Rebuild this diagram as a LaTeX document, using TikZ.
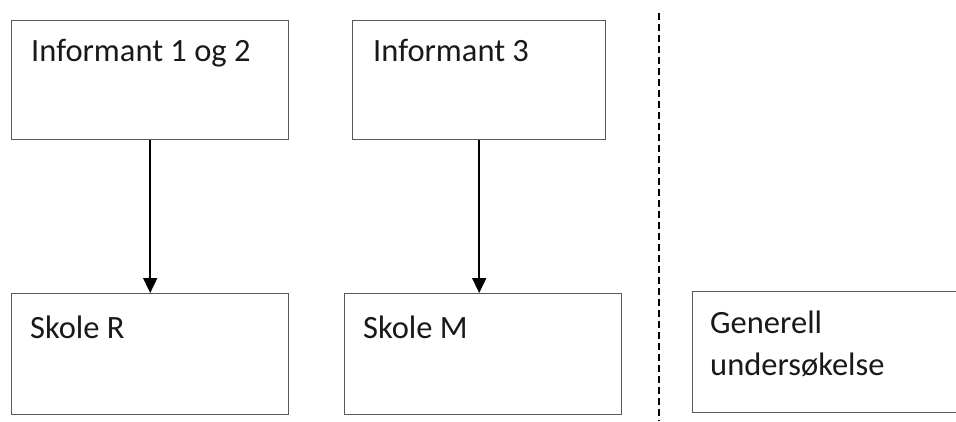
\documentclass[tikz,border=0pt]{standalone}
\usepackage{fontspec}
\setmainfont{Carlito}
\usetikzlibrary{arrows.meta}
\begin{document}
\begin{tikzpicture}[x=1pt,y=-1pt,
  boxstyle/.style={draw=black!65,line width=1.4pt,fill=white},
  lbl/.style={anchor=base west,inner sep=0pt,font=\fontsize{32.5}{42}\selectfont,text=black!90},
  conn/.style={line width=1.8pt,-{Triangle[length=15pt,width=14pt]}},
  divider/.style={line width=1.6pt,dash pattern=on 7pt off 4pt}]
\useasboundingbox (0,0) rectangle (956,421);
\fill[white] (0,0) rectangle (956,421);
\node[boxstyle,minimum width=277pt,minimum height=119pt,anchor=north west,inner sep=0pt] (b1) at (11,20) {};
\node[boxstyle,minimum width=253pt,minimum height=119pt,anchor=north west,inner sep=0pt] (b2) at (352,20) {};
\node[boxstyle,minimum width=277pt,minimum height=121pt,anchor=north west,inner sep=0pt] (b3) at (11,293) {};
\node[boxstyle,minimum width=277pt,minimum height=121pt,anchor=north west,inner sep=0pt] (b4) at (344,293) {};
\node[boxstyle,minimum width=280pt,minimum height=121pt,anchor=north west,inner sep=0pt] (b5) at (692,291) {};
\node[lbl] (t1) at (31,61) {Informant 1 og 2};
\node[lbl] (t2) at (373,61) {Informant 3};
\node[lbl] (t3) at (30,338) {Skole R};
\node[lbl] (t4) at (363,338) {Skole M};
\node[lbl] (t5) at (710,333) {Generell};
\node[lbl] (t6) at (710,375) {undersøkelse};
\draw[conn] (b1.south) -- (b3.north);
\draw[conn] (b2.south) -- (b2.south |- b4.north);
\coordinate (d1) at (659,13);
\coordinate (d2) at (659,421);
\draw[divider] (d1) -- (d2);
\end{tikzpicture}
\end{document}
